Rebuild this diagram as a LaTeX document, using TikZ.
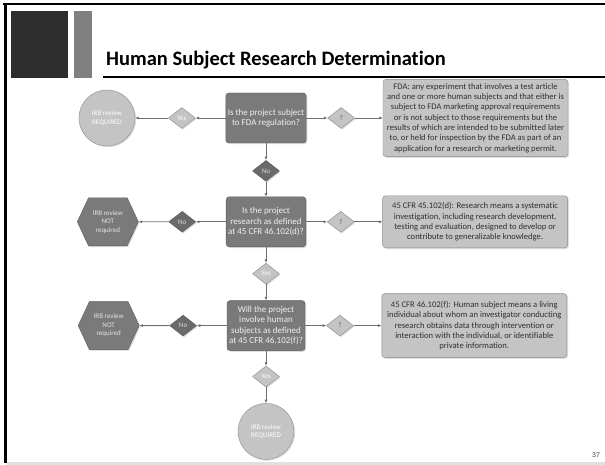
\documentclass[tikz,border=0pt]{standalone}
\usepackage{fontspec}
\setmainfont{Carlito}[Ligatures=NoCommon]
\newfontfamily\pgfont{Liberation Sans}
\usepackage{tikz}
\usetikzlibrary{positioning,arrows.meta,shapes.geometric,shapes.symbols,shadows}

\definecolor{slidedark}{HTML}{2D2D2D}
\definecolor{slidebar}{HTML}{808080}
\definecolor{qfill}{HTML}{7A7A7A}
\definecolor{qedge}{HTML}{5A5A5A}
\definecolor{lfill}{HTML}{C4C4C4}
\definecolor{ledge}{HTML}{8A8A8A}
\definecolor{nofill}{HTML}{6A6A6A}
\definecolor{arrgray}{HTML}{6E6E6E}
\definecolor{infotext}{HTML}{303030}

\begin{document}
\begin{tikzpicture}[x=1pt,y=1pt,
  shade/.style={drop shadow={opacity=0.25,shadow xshift=1.2pt,shadow yshift=-1.2pt}},
  qbox/.style={draw=qedge,fill=qfill,rounded corners=3pt,minimum width=78pt,minimum height=50pt,inner sep=2pt,align=center,text=white!94!black,font=\fontsize{9}{10.5}\selectfont,shade},
  infobox/.style={draw=ledge,fill=lfill,rounded corners=3pt,minimum width=185pt,inner xsep=3pt,inner ysep=4pt,align=center,text=infotext,font=\fontsize{8.6}{10.3}\selectfont,shade},
  ybox/.style={diamond,draw=ledge,fill=lfill,inner sep=0pt,minimum width=27pt,minimum height=21pt,text=white,font=\fontsize{7}{8}\selectfont,shade},
  nbox/.style={diamond,draw=qedge,fill=nofill,inner sep=0pt,minimum width=27pt,minimum height=21pt,text=white!85!black,font=\fontsize{7}{8}\selectfont,shade},
  qmark/.style={diamond,draw=ledge,fill=lfill,inner sep=0pt,minimum width=27pt,minimum height=21pt,text=black!65,font=\fontsize{7}{8}\selectfont,shade},
  stopbox/.style={signal,signal to=west and east,signal pointer angle=130,draw=qedge,fill=qfill,inner sep=1pt,minimum width=61pt,minimum height=48pt,align=center,text=white!90!black,font=\fontsize{7}{8.5}\selectfont,shade},
  irbcirc/.style={circle,draw=ledge,fill=lfill,inner sep=0pt,minimum size=56pt,align=center,text=white,font=\fontsize{7}{8.3}\selectfont,shade},
  arr/.style={draw=arrgray,line width=0.8pt,-{Latex[length=3.5pt,width=3pt]}}
]
\useasboundingbox (0,0) rectangle (605,-465);
% slide frame and header
\fill[black] (3,-3) rectangle (605,-5.5);
\fill[black] (3.5,-3) rectangle (6.5,-463);
\fill[black!12] (6.5,-462) rectangle (605,-465);
\fill[slidedark] (11,-11) rectangle (68,-78);
\fill[slidebar] (74,-11) rectangle (92,-78);
\node[anchor=base west,inner sep=0pt,font=\fontsize{20.5}{24}\selectfont\bfseries] (title) at (106,-66) {Human Subject Research Determination};
\draw[line width=1.2pt] (103,-77) -- (605,-77);

% row 1
\node[qbox] (q1) at (266,-118) {Is the project subject\\to FDA regulation?};
\node[ybox,left=30pt of q1] (y1) {Yes};
\node[irbcirc,left=33pt of y1] (r1) {IRB review\\REQUIRED};
\node[qmark,right=21pt of q1] (m1) {?};
\node[infobox,right=28pt of m1] (d1) {FDA: any experiment that involves a test article\\and one or more human subjects and that either is\\subject to FDA marketing approval requirements\\or is not subject to those requirements but the\\results of which are intended to be submitted later\\to, or held for inspection by the FDA as part of an\\application for a research or marketing permit.};
\node[nbox,below=17pt of q1] (n1) {No};

% row 2
\node[qbox,below=15pt of n1] (q2) {Is the project\\research as defined\\at 45 CFR 46.102(d)?};
\node[nbox,left=30pt of q2] (n2) {No};
\node[stopbox,left=30pt of n2] (s2) {IRB review\\NOT\\required};
\node[qmark,right=21pt of q2] (m2) {?};
\node[infobox,right=28pt of m2,minimum height=52pt] (d2) {45 CFR 45.102(d): Research means a systematic\\investigation, including research development,\\testing and evaluation, designed to develop or\\contribute to generalizable knowledge.};
\node[ybox,below=16pt of q2] (y2) {Yes};

% row 3
\node[qbox,below=16pt of y2] (q3) {Will the project\\involve human\\subjects as defined\\at 45 CFR 46.102(f)?};
\node[nbox,left=30pt of q3] (n3) {No};
\node[stopbox,left=30pt of n3] (s3) {IRB review\\NOT\\required};
\node[qmark,right=21pt of q3] (m3) {?};
\node[infobox,right=28pt of m3,minimum height=64pt] (d3) {45 CFR 46.102(f): Human subject means a living\\individual about whom an investigator conducting\\research obtains data through intervention or\\interaction with the individual, or identifiable\\private information.};
\node[ybox,below=15pt of q3] (y3) {Yes};
\node[irbcirc,below=16pt of y3] (r3) {IRB review\\REQUIRED};

\draw[arr] (q1) -- (y1); \draw[arr] (y1) -- (r1);
\draw[arr] (q1) -- (m1); \draw[arr] (m1) -- (d1);
\draw[arr] (q1) -- (n1); \draw[arr] (n1) -- (q2);
\draw[arr] (q2) -- (n2); \draw[arr] (n2) -- (s2);
\draw[arr] (q2) -- (m2); \draw[arr] (m2) -- (d2);
\draw[arr] (q2) -- (y2); \draw[arr] (y2) -- (q3);
\draw[arr] (q3) -- (n3); \draw[arr] (n3) -- (s3);
\draw[arr] (q3) -- (m3); \draw[arr] (m3) -- (d3);
\draw[arr] (q3) -- (y3); \draw[arr] (y3) -- (r3);

\node[font=\pgfont\fontsize{7}{8}\selectfont,text=black!75] (pg) at (596,-455) {37};
\end{tikzpicture}
\end{document}
